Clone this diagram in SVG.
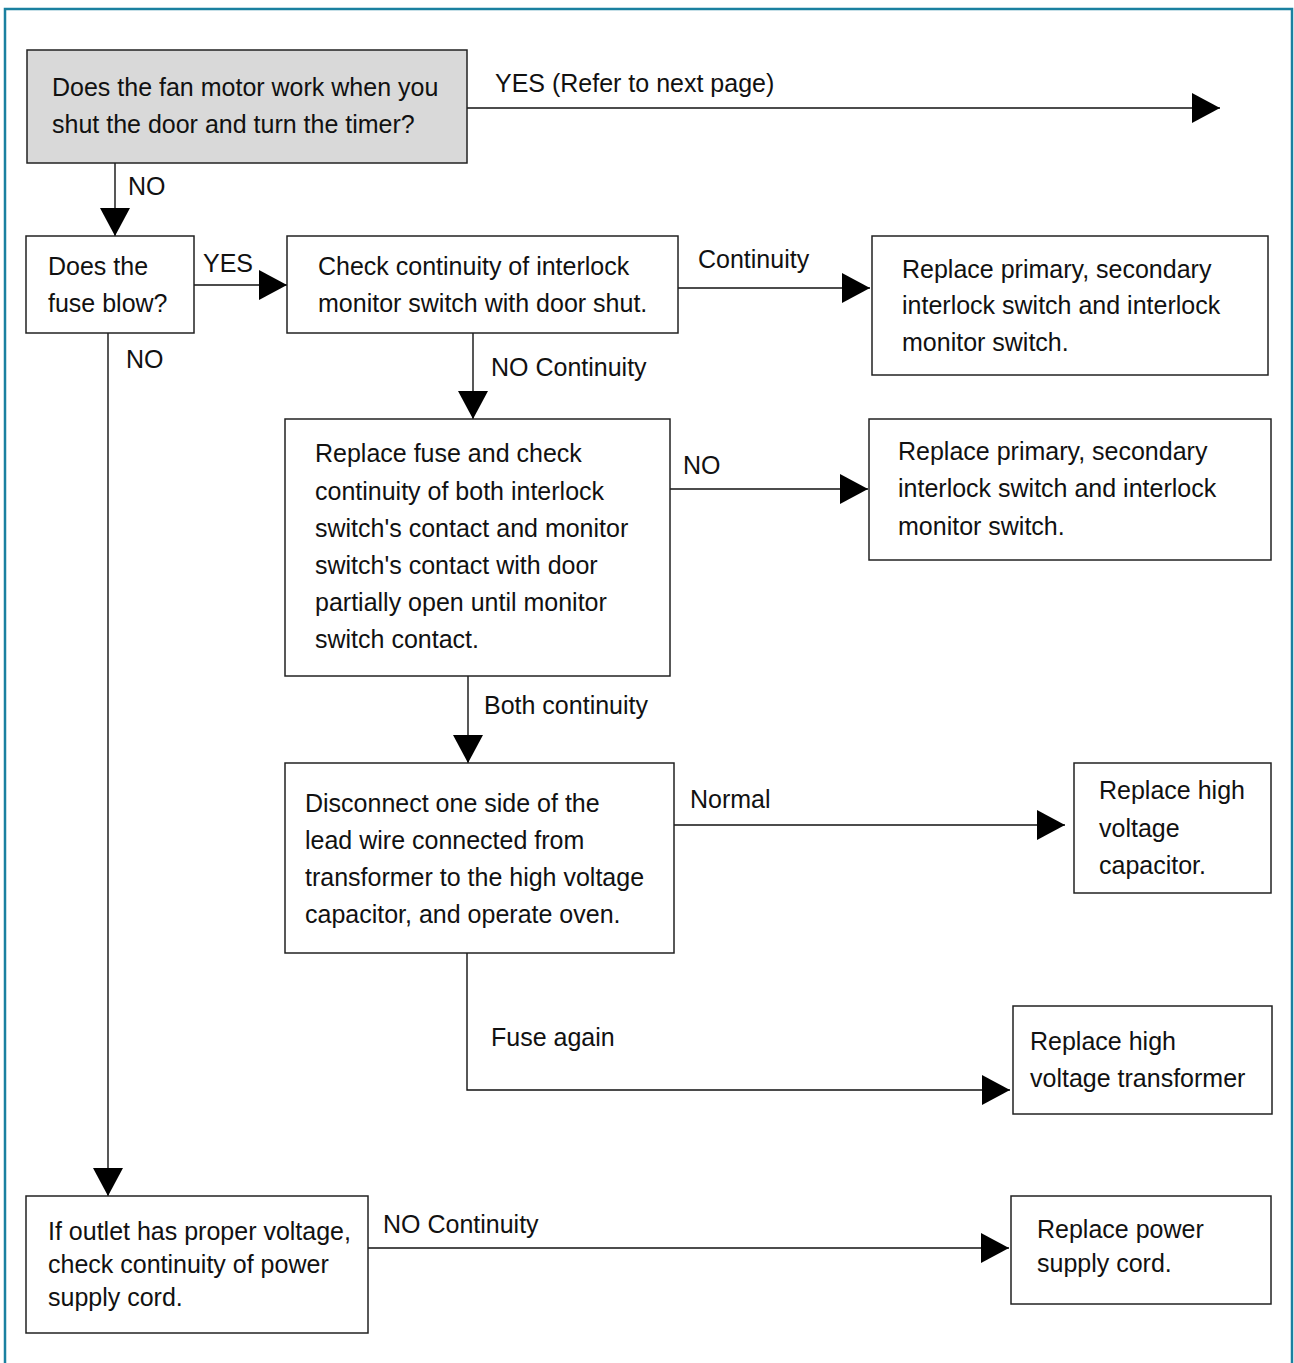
<svg xmlns="http://www.w3.org/2000/svg" width="1294" height="1363" viewBox="0 0 1294 1363">
<defs>
<style>
.frame{fill:#fff;stroke:#1a80a0;stroke-width:2.5}
.box{fill:#fff;stroke:#222;stroke-width:1.5}
.gray{fill:#d9d9d9;stroke:#222;stroke-width:1.5}
.t{font-family:"Liberation Sans",Arial,sans-serif;font-size:25px;fill:#111}
.c{fill:none;stroke:#111;stroke-width:1.4}
</style>
<marker id="ah" markerUnits="userSpaceOnUse" markerWidth="30" markerHeight="32" refX="28" refY="15" orient="auto" viewBox="0 0 30 32">
<path d="M0,0 L28,15 L0,30 Z" fill="#000"/>
</marker>
</defs>
<rect x="5" y="9" width="1287" height="1370" class="frame"/>

<g id="connectors">
<path class="c" d="M467,108 H1220" marker-end="url(#ah)"/>
<text class="t" x="495" y="92">YES (Refer to next page)</text>
<path class="c" d="M115,163 V236" marker-end="url(#ah)"/>
<text class="t" x="128" y="195">NO</text>
<path class="c" d="M194,285 H287" marker-end="url(#ah)"/>
<text class="t" x="203" y="272">YES</text>
<path class="c" d="M678,288 H870" marker-end="url(#ah)"/>
<text class="t" x="698" y="268">Continuity</text>
<path class="c" d="M473,333 V419" marker-end="url(#ah)"/>
<text class="t" x="491" y="376">NO Continuity</text>
<path class="c" d="M670,489 H868" marker-end="url(#ah)"/>
<text class="t" x="683" y="474">NO</text>
<path class="c" d="M468,676 V763" marker-end="url(#ah)"/>
<text class="t" x="484" y="714">Both continuity</text>
<path class="c" d="M674,825 H1065" marker-end="url(#ah)"/>
<text class="t" x="690" y="808">Normal</text>
<path class="c" d="M467,953 V1090 H1010" marker-end="url(#ah)"/>
<text class="t" x="491" y="1046">Fuse again</text>
<path class="c" d="M108,333 V1196" marker-end="url(#ah)"/>
<text class="t" x="126" y="368">NO</text>
<path class="c" d="M368,1248 H1009" marker-end="url(#ah)"/>
<text class="t" x="383" y="1233">NO Continuity</text>
</g>

<g id="n1">
<rect class="gray" x="27" y="50" width="440" height="113"/>
<text class="t" x="52" y="96">Does the fan motor work when you</text>
<text class="t" x="52" y="133">shut the door and turn the timer?</text>
</g>
<g id="n2">
<rect class="box" x="26" y="236" width="168" height="97"/>
<text class="t" x="48" y="275">Does the</text>
<text class="t" x="48" y="312">fuse blow?</text>
</g>
<g id="n3">
<rect class="box" x="287" y="236" width="391" height="97"/>
<text class="t" x="318" y="275">Check continuity of interlock</text>
<text class="t" x="318" y="312">monitor switch with door shut.</text>
</g>
<g id="n4">
<rect class="box" x="872" y="236" width="396" height="139"/>
<text class="t" x="902" y="278">Replace primary, secondary</text>
<text class="t" x="902" y="314">interlock switch and interlock</text>
<text class="t" x="902" y="351">monitor switch.</text>
</g>
<g id="n5">
<rect class="box" x="285" y="419" width="385" height="257"/>
<text class="t" x="315" y="462">Replace fuse and check</text>
<text class="t" x="315" y="500">continuity of both interlock</text>
<text class="t" x="315" y="537">switch's contact and monitor</text>
<text class="t" x="315" y="574">switch's contact with door</text>
<text class="t" x="315" y="611">partially open until monitor</text>
<text class="t" x="315" y="648">switch contact.</text>
</g>
<g id="n6">
<rect class="box" x="869" y="419" width="402" height="141"/>
<text class="t" x="898" y="460">Replace primary, secondary</text>
<text class="t" x="898" y="497">interlock switch and interlock</text>
<text class="t" x="898" y="535">monitor switch.</text>
</g>
<g id="n7">
<rect class="box" x="285" y="763" width="389" height="190"/>
<text class="t" x="305" y="812">Disconnect one side of the</text>
<text class="t" x="305" y="849">lead wire connected from</text>
<text class="t" x="305" y="886">transformer to the high voltage</text>
<text class="t" x="305" y="923">capacitor, and  operate oven.</text>
</g>
<g id="n8">
<rect class="box" x="1074" y="763" width="197" height="130"/>
<text class="t" x="1099" y="799">Replace high</text>
<text class="t" x="1099" y="837">voltage</text>
<text class="t" x="1099" y="874">capacitor.</text>
</g>
<g id="n9">
<rect class="box" x="1013" y="1006" width="259" height="108"/>
<text class="t" x="1030" y="1050">Replace high</text>
<text class="t" x="1030" y="1087">voltage transformer</text>
</g>
<g id="n10">
<rect class="box" x="26" y="1196" width="342" height="137"/>
<text class="t" x="48" y="1240">If outlet has proper voltage,</text>
<text class="t" x="48" y="1273">check continuity of power</text>
<text class="t" x="48" y="1306">supply cord.</text>
</g>
<g id="n11">
<rect class="box" x="1011" y="1196" width="260" height="108"/>
<text class="t" x="1037" y="1238">Replace power</text>
<text class="t" x="1037" y="1272">supply cord.</text>
</g>
</svg>
